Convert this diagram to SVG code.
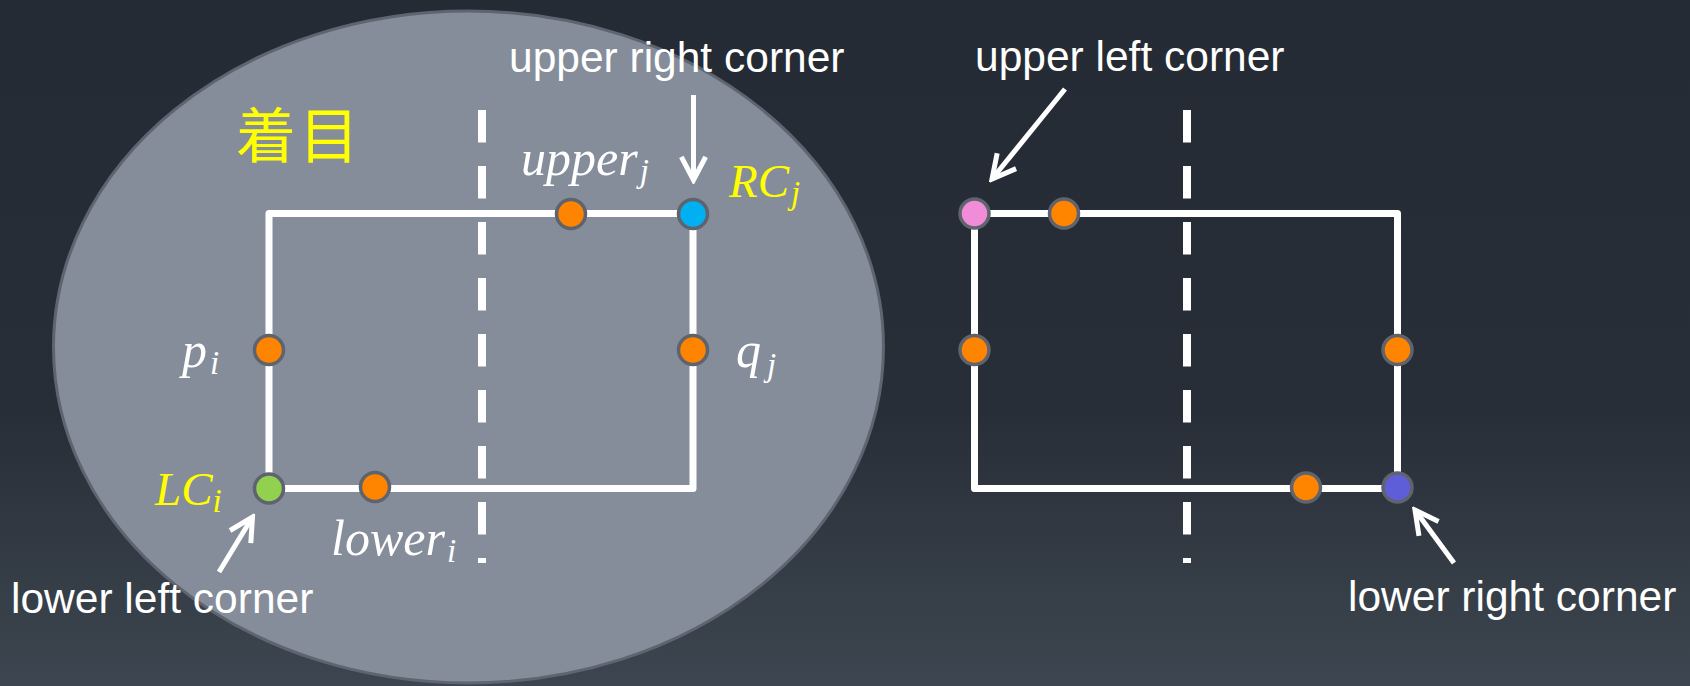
<svg xmlns="http://www.w3.org/2000/svg" width="1690" height="686" viewBox="0 0 1690 686">
<defs>
<linearGradient id="bg" x1="0" y1="0" x2="0" y2="1">
<stop offset="0" stop-color="#252b34"/>
<stop offset="0.6" stop-color="#282e37"/>
<stop offset="1" stop-color="#3d4650"/>
</linearGradient>
<marker id="arr" markerUnits="userSpaceOnUse" markerWidth="30" markerHeight="30" viewBox="-26 -15 30 30" refX="0" refY="0" orient="auto">
<path d="M-21,-11 L0,0 L-21,11" fill="none" stroke="#ffffff" stroke-width="5" stroke-linecap="square" stroke-linejoin="miter"/>
</marker>
<style>
.frame{fill:none;stroke:#ffffff;stroke-width:7;stroke-linejoin:round}
.dash{stroke:#ffffff;stroke-width:8;stroke-dasharray:32.5 23.5}
.pt{stroke:#5f636e;stroke-width:3.5}
.org{fill:#ff8400}
.lbl{font-family:"Liberation Sans",Arial,sans-serif;font-size:42.5px;fill:#ffffff}
.math{font-family:"Liberation Serif","DejaVu Serif",serif;font-style:italic;font-size:50px;fill:#ffffff}
.caps{font-size:47px}
.sub{font-size:33px}
.yel{fill:#ffff00}
.arrow{stroke:#ffffff;stroke-width:5;fill:none;marker-end:url(#arr)}
</style>
</defs>
<rect x="0" y="0" width="1690" height="686" fill="url(#bg)"/>
<g id="focus-area">
<ellipse cx="468.5" cy="347" rx="415" ry="336" fill="#858d9a" stroke="#5e6470" stroke-width="3"/>
<text x="236" y="158" font-family="'Noto Sans CJK JP','Noto Sans CJK SC',sans-serif" font-size="60" fill="#ffff00" letter-spacing="3">着目</text>
</g>
<g id="connectors">
<line class="dash" x1="482" y1="110" x2="482" y2="563"/>
<line class="dash" x1="1187" y1="110" x2="1187" y2="563"/>
<line class="arrow" x1="693.5" y1="95" x2="693.5" y2="180"/>
<line class="arrow" x1="219" y1="572" x2="252.5" y2="517"/>
<line class="arrow" x1="1065" y1="89" x2="992" y2="179"/>
<line class="arrow" x1="1454" y1="563" x2="1415" y2="510"/>
</g>
<g id="rect-left">
<rect class="frame" x="269" y="213.5" width="424" height="275"/>
</g>
<g id="rect-right">
<rect class="frame" x="974.5" y="213.5" width="423" height="275"/>
</g>
<g id="node-upper-j"><circle class="pt org" cx="571" cy="214" r="14.5"/></g>
<g id="node-rc-j"><circle class="pt" fill="#00b0f0" cx="693" cy="214" r="14.5"/></g>
<g id="node-p-i"><circle class="pt org" cx="269" cy="350" r="14.5"/></g>
<g id="node-q-j"><circle class="pt org" cx="693" cy="350" r="14.5"/></g>
<g id="node-lc-i"><circle class="pt" fill="#92d050" cx="269" cy="488.5" r="14.5"/></g>
<g id="node-lower-i"><circle class="pt org" cx="375" cy="487" r="14.5"/></g>
<g id="node-ul"><circle class="pt" fill="#f08cd8" cx="974.5" cy="213.5" r="14.5"/></g>
<g id="node-top-r"><circle class="pt org" cx="1064" cy="213.5" r="14.5"/></g>
<g id="node-left-r"><circle class="pt org" cx="974.5" cy="350" r="14.5"/></g>
<g id="node-right-r"><circle class="pt org" cx="1397.5" cy="350" r="14.5"/></g>
<g id="node-bottom-r"><circle class="pt org" cx="1306" cy="487.5" r="14.5"/></g>
<g id="node-lr"><circle class="pt" fill="#5e5ed8" cx="1397.5" cy="487.5" r="14.5"/></g>
<g id="labels">
<text class="lbl" x="509" y="72">upper right corner</text>
<text class="lbl" x="975" y="71">upper left corner</text>
<text class="lbl" x="11" y="612.5">lower left corner</text>
<text class="lbl" x="1348" y="611">lower right corner</text>
<text class="math" x="521" y="175">upper<tspan class="sub" dx="2" dy="7">j</tspan></text>
<text class="math caps yel" x="729" y="197">RC<tspan class="sub" dx="2" dy="7">j</tspan></text>
<text class="math" x="182" y="367">p<tspan class="sub" dx="3" dy="7">i</tspan></text>
<text class="math" x="736" y="367">q<tspan class="sub" dx="6" dy="9">j</tspan></text>
<text class="math caps yel" x="155" y="505">LC<tspan class="sub" dx="0" dy="7">i</tspan></text>
<text class="math" x="331" y="555">lower<tspan class="sub" dx="2" dy="7">i</tspan></text>
</g>
</svg>
